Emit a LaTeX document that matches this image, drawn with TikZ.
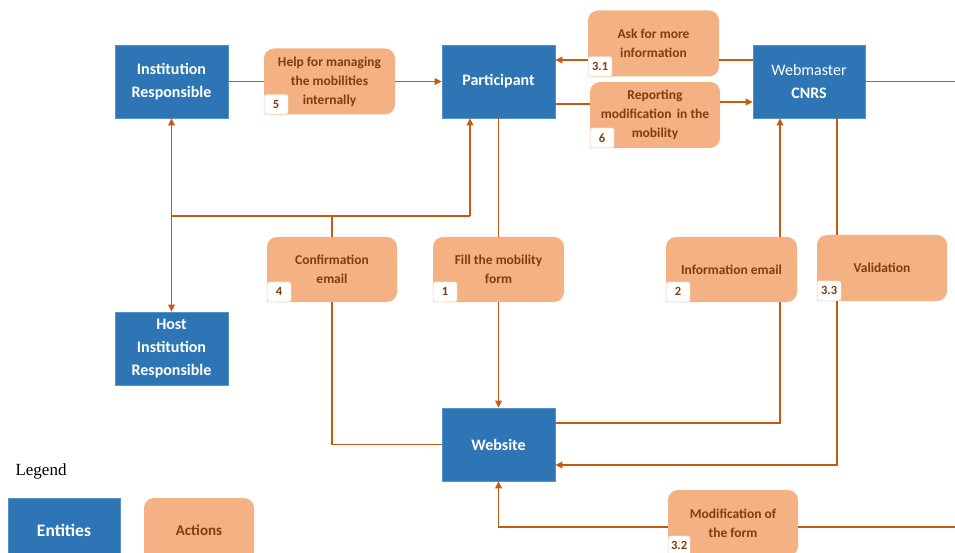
\documentclass[tikz,border=0pt]{standalone}
\usepackage{fontspec}
\setmainfont{Carlito}
\newfontfamily\legendfont{Liberation Serif}
\usetikzlibrary{arrows.meta}
\definecolor{entblue}{HTML}{2E75B6}
\definecolor{actfill}{HTML}{F4B183}
\definecolor{linecol}{HTML}{C55A11}
\definecolor{acttext}{HTML}{843C0C}
\tikzset{
  entity/.style={fill=entblue, draw=entblue!80!white, line width=0.6pt, text=white,
    minimum width=113pt, minimum height=73pt, align=center, inner sep=2pt,
    font=\fontsize{16}{23}\selectfont\bfseries},
  action/.style={fill=actfill, draw=none, rounded corners=10pt, text=acttext,
    minimum width=131pt, minimum height=66pt, align=center, inner sep=2pt,
    font=\fontsize{13.5}{19}\selectfont\bfseries},
  badge/.style={fill=white, draw=actfill!70!white, line width=0.6pt, rounded corners=2pt,
    text=acttext, minimum width=24pt, minimum height=20pt, inner sep=0pt,
    anchor=south west, font=\fontsize{12.5}{14}\selectfont\bfseries},
  conn/.style={draw=linecol, line width=1.9pt},
  arr/.style={conn, -{Triangle[length=7pt,width=6.5pt]}},
}
\begin{document}
\begin{tikzpicture}[x=1pt,y=-1pt]
\useasboundingbox (0,0) rectangle (955,553);
% entities
\node[entity] (ir) at (171.5,81.5) {Institution\\Responsible};
\node[entity] (part) at (498.5,81.5) {Participant};
\node[entity, minimum width=112pt] (web) at (809,81.5) {\mdseries Webmaster\\CNRS};
\node[entity] (host) at (171.5,348.5) {Host\\Institution\\Responsible};
\node[entity] (site) at (498.5,444.5) {Website};
% actions
\node[action] (help) at (329.5,81.5) {Help for managing\\the mobilities\\internally};
\node[badge] (b5) at (help.south west) {5};
\node[action] (ask) at (653.5,43.5) {Ask for more\\information};
\node[badge] (b31) at (ask.south west) {3.1};
\node[action, minimum width=130pt] (rep) at (655,115) {Reporting\\modification\, in the\\mobility};
\node[badge] (b6) at (rep.south west) {6};
\node[action, minimum width=130pt, minimum height=65pt] (conf) at (332,269.5) {Confirmation\\email};
\node[badge] (b4) at (conf.south west) {4};
\node[action, minimum height=65pt] (fill) at (498.5,269.5) {Fill the mobility\\form};
\node[badge] (b1) at (fill.south west) {1};
\node[action, minimum height=65pt] (info) at (731.5,269.5) {Information email};
\node[badge] (b2) at (info.south west) {2};
\node[action, minimum width=130pt] (val) at (882,268) {Validation};
\node[badge] (b33) at (val.south west) {3.3};
\node[action, minimum width=130pt] (mod) at (733,523) {Modification of\\the form};
\node[badge, minimum width=22pt] (b32) at (mod.south west) {3.2};
% legend
\node[font=\legendfont\fontsize{17}{20}\selectfont, anchor=west] (leg) at (12,471) {Legend};
\node[entity, minimum width=112pt, minimum height=64pt, font=\fontsize{17.5}{21}\selectfont\bfseries] (lent) at (64,530) {Entities};
\node[action, minimum width=110pt, minimum height=64pt, font=\fontsize{15}{19}\selectfont\bfseries] (lact) at (199,530) {Actions};
% coordinates
\coordinate (outR1) at (955,81.5);
\coordinate (outR2) at (955,527);
\coordinate (jL) at (171.5,216);
\coordinate (jR) at (470,216);
% connectors
\draw[conn] (ir.east) -- (help.west);
\draw[arr] (help.east) -- (part.west);
\draw[conn] (web.west |- 0,60) -- (ask.east |- 0,60);
\draw[arr] (ask.west |- 0,60) -- (part.east |- 0,60);
\draw[conn] (part.east |- 0,104) -- (rep.west |- 0,104);
\draw[arr] (rep.east |- 0,102) -- (web.west |- 0,102);
\draw[conn] (web.east) -- (outR1);
\draw[conn] (part.south) -- (fill.north);
\draw[arr] (fill.south) -- (site.north);
\draw[conn] (site.west) -| (conf.south);
\draw[conn] (conf.north) -- (conf.north |- jL);
\draw[conn] (jL) -- (jR);
\draw[arr] (jR) -- (jR |- part.south);
\draw[arr] (jL) -- (ir.south);
\draw[arr] (jL) -- (host.north);
\draw[conn] (site.east |- 0,423) -| ([xshift=48.5pt]info.south);
\draw[arr] ([xshift=48.5pt]info.north) -- ([xshift=48.5pt]info.north |- web.south);
\draw[conn] ([xshift=28pt]web.south) -- ([xshift=-45pt]val.north);
\draw[arr] ([xshift=-45pt]val.south) |- (site.east |- 0,465);
\draw[conn] (outR2) -- (mod.east |- outR2);
\draw[arr] (mod.west |- outR2) -| (site.south);
\end{tikzpicture}
\end{document}
